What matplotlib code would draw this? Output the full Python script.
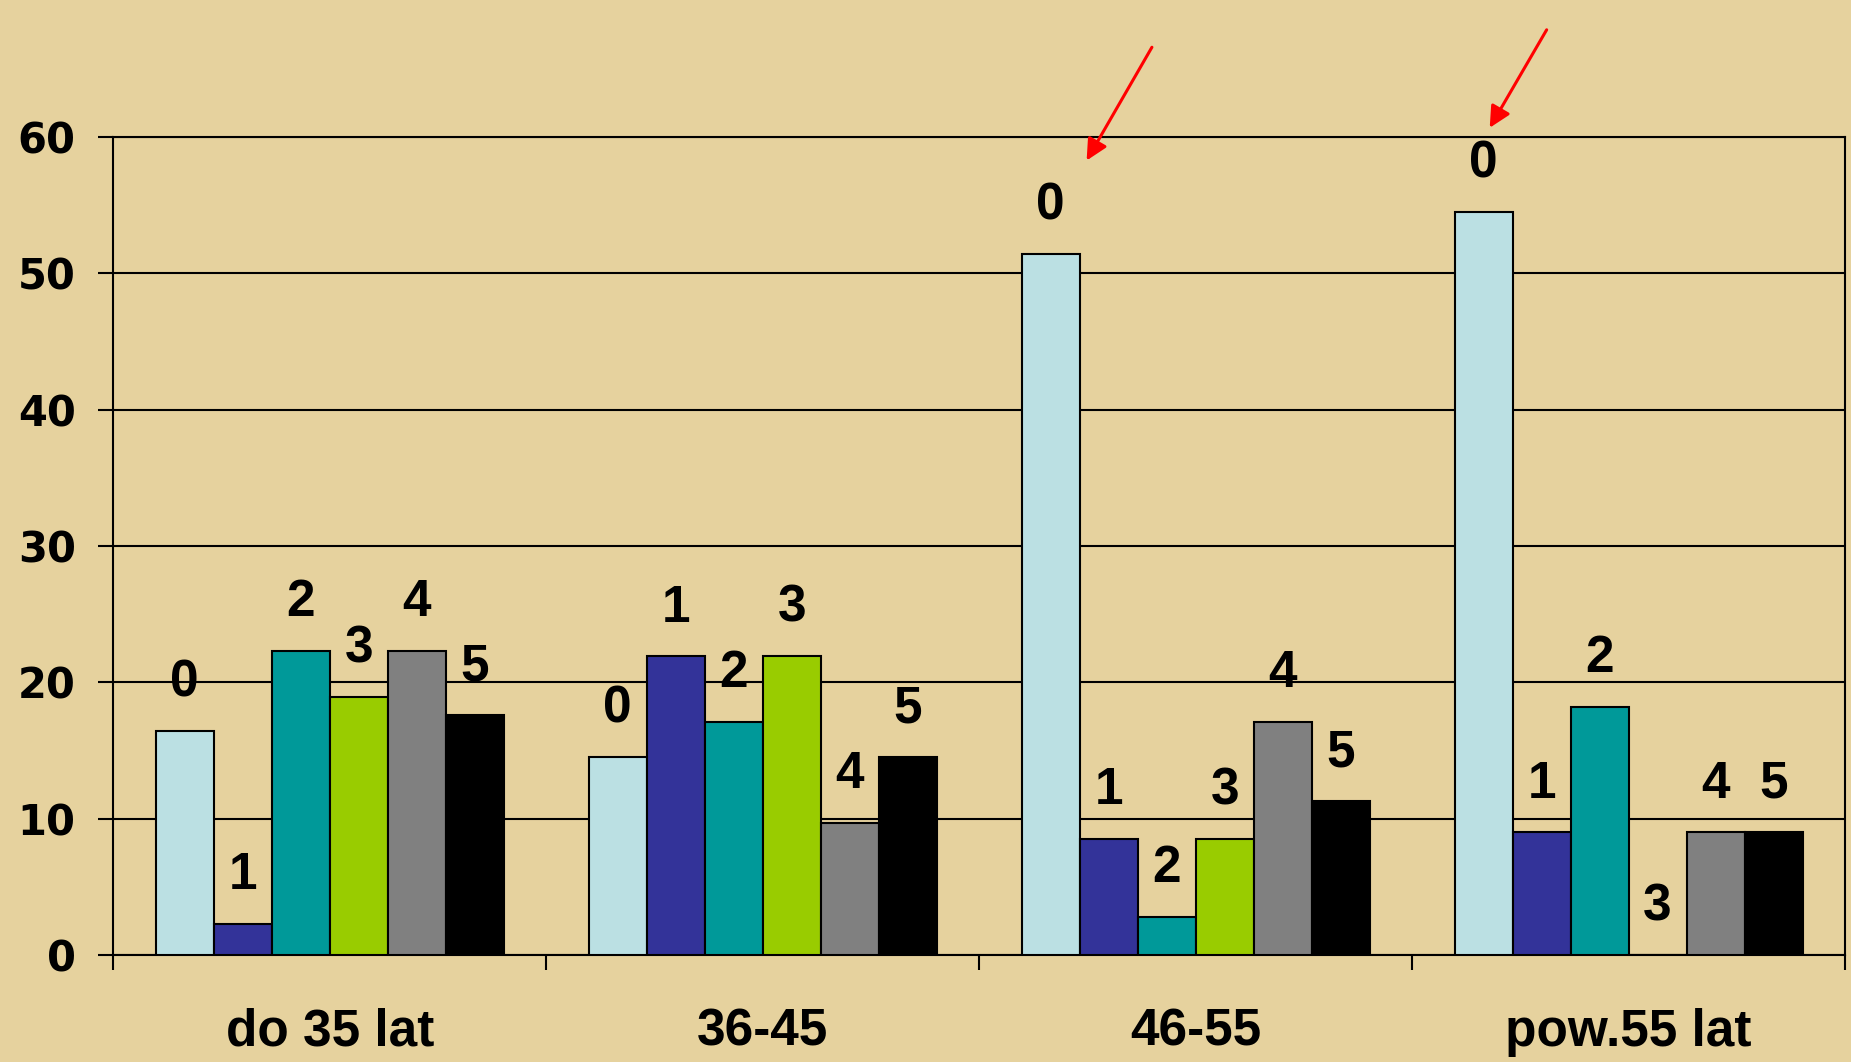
import numpy as np
import matplotlib
matplotlib.use("Agg")
import matplotlib.pyplot as plt

# Data
groups = ['do 35 lat', '36-45', '46-55', 'pow.55 lat']
series = ['0', '1', '2', '3', '4', '5']
v0 = [16.4, 14.5, 51.4, 54.5]
v1 = [2.3, 21.9, 8.5, 9.0]
v2 = [22.3, 17.1, 2.8, 18.2]
v3 = [18.9, 21.9, 8.5, 0.0]
v4 = [22.3, 9.7, 17.1, 9.0]
v5 = [17.6, 14.5, 11.3, 9.0]
values = [v0, v1, v2, v3, v4, v5]
colors = ['#BBE0E3', '#333399', '#009999', '#99CC00', '#808080', '#000000']

bg = '#E6D29E'

fig = plt.figure(figsize=(18.51, 10.62), dpi=100, facecolor=bg)
ax = fig.add_axes([0.0612, 0.1008, 0.9356, 0.7702])
ax.set_facecolor(bg)

x = np.arange(len(groups))
w = 0.134
for i, (vals, c) in enumerate(zip(values, colors)):
    pos = x + (i - 2.5) * w
    ax.bar(pos, vals, width=w, color=c, edgecolor='black', linewidth=1.5, zorder=3)
    for px, v in zip(pos, vals):
        ax.annotate(series[i], (px, v), xytext=(0, 17), textcoords='offset points',
                    ha='center', va='bottom', fontsize=37, fontweight='bold',
                    family='Liberation Sans', zorder=4)

# red arrows pointing at the large "0" bars
ax.annotate('', xy=(x[2] - 2.5 * w + 0.08, 58.1), xytext=(49, 85),
            textcoords='offset points',
            arrowprops=dict(arrowstyle='-|>', color='red', lw=2.2, mutation_scale=32),
            annotation_clip=False)
ax.annotate('', xy=(x[3] - 2.5 * w + 0.011, 60.5), xytext=(43, 74),
            textcoords='offset points',
            arrowprops=dict(arrowstyle='-|>', color='red', lw=2.2, mutation_scale=32),
            annotation_clip=False)

ax.set_xlim(-0.5, len(groups) - 0.5)
ax.set_ylim(0, 60)
ax.set_yticks(range(0, 61, 10))
ax.yaxis.grid(True, color='black', linewidth=1.5, zorder=0)
ax.set_axisbelow(True)
ax.tick_params(axis='y', length=11, width=1.5, pad=16, labelsize=30)
for t in ax.get_yticklabels():
    t.set_fontweight('bold')

ax.set_xticks(np.arange(len(groups) + 1) - 0.5)
ax.set_xticklabels([])
ax.set_xticks(x, minor=True)
ax.set_xticklabels(groups, minor=True, fontsize=37, fontweight='bold',
                   family='Liberation Sans')
ax.tick_params(axis='x', which='major', length=11, width=1.5)
ax.tick_params(axis='x', which='minor', length=0, pad=38)

for s in ax.spines.values():
    s.set_linewidth(1.5)
    s.set_color('black')

fig.savefig('out.png', dpi=100, facecolor=bg)
